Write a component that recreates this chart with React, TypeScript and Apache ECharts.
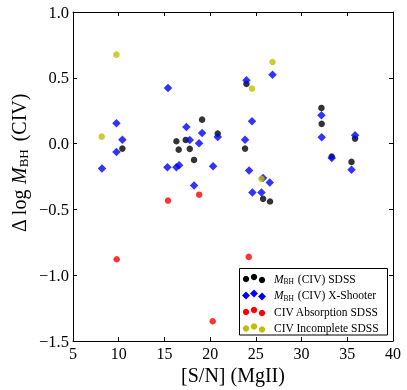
import React, { useEffect, useRef } from "react";
import * as echarts from "echarts";

// [S/N](MgII), Δlog M_BH(CIV)
const civSdss: [number, number][] = [
  [10.4, -0.038], [16.31, 0.018], [16.56, -0.046], [17.33, 0.028], [17.77, -0.04],
  [18.24, -0.124], [19.12, 0.182], [20.83, 0.076], [23.97, 0.454], [23.82, -0.038],
  [25.79, -0.42], [26.55, -0.44], [32.17, 0.271], [32.2, 0.15], [33.3, -0.098],
  [35.46, -0.139], [35.85, 0.038],
];
const civXShooter: [number, number][] = [
  [8.17, -0.19], [9.75, 0.154], [9.75, -0.063], [10.4, 0.03], [15.39, 0.423],
  [15.33, -0.18], [16.31, -0.18], [16.6, -0.165], [17.4, 0.127], [17.77, 0.028],
  [18.24, -0.319], [19.12, 0.081], [18.79, 0.002], [20.32, -0.172], [20.83, 0.051],
  [23.97, 0.481], [24.58, 0.17], [23.82, 0.03], [24.26, -0.205], [24.62, -0.372],
  [25.79, -0.261], [26.52, -0.296], [25.61, -0.372], [26.82, 0.524], [32.17, 0.215],
  [32.2, 0.048], [33.3, -0.11], [35.46, -0.198], [35.85, 0.063],
];
const civAbsorption: [number, number][] = [
  [9.78, -0.879], [15.39, -0.433], [18.8, -0.388], [20.28, -1.35], [24.22, -0.861],
];
const civIncomplete: [number, number][] = [
  [8.14, 0.053], [9.75, 0.676], [24.58, 0.418], [26.82, 0.62], [25.61, -0.268],
];

const xMin = 5, xMax = 40, xStep = 5;
const yMin = -1.5, yMax = 1.0, yStep = 0.5;

const legendLabels = [
  "{i|M}{s|BH} (CIV) SDSS",
  "{i|M}{s|BH} (CIV) X-Shooter",
  "CIV Absorption SDSS",
  "CIV Incomplete SDSS",
];

const FONT = "'Liberation Serif', 'DejaVu Serif', serif";
const BLACK = "#000000";
const BLUE = "#0000ff";
const RED = "#ff0000";
const OLIVE = "#bfbf00";

const fmt = (v: number) => v.toFixed(1).replace("-", "\u2212");

export default function App() {
  const ref = useRef<HTMLDivElement>(null);
  useEffect(() => {
    if (!ref.current) return;
    const chart = echarts.init(ref.current, undefined, { renderer: "svg" });

    const axisCommon = {
      type: "value" as const,
      axisLine: { show: true, onZero: false, lineStyle: { color: "#000", width: 1 } },
      axisTick: { show: true, inside: true, length: 4, lineStyle: { color: "#000", width: 1 } },
      splitLine: { show: false },
    };

    const colors = [BLACK, BLUE, RED, OLIVE];
    const symbols = ["circle", "diamond", "circle", "circle"];
    const rowY = [278.5, 295, 311.5, 328];
    const mx = [246, 254, 262];
    const my = [0.5, -1.5, 1.5];

    const legendGraphics: any[] = [
      {
        type: "rect",
        shape: { x: 239.5, y: 268.5, width: 148, height: 66.5 },
        style: { fill: "#fff", stroke: "#000", lineWidth: 1 },
        z: 100,
      },
    ];
    rowY.forEach((ry, i) => {
      mx.forEach((x, j) => {
        const y = ry + my[j];
        if (symbols[i] === "diamond") {
          legendGraphics.push({
            type: "polygon",
            shape: { points: [[x, y - 4], [x + 4, y], [x, y + 4], [x - 4, y]] },
            style: { fill: colors[i] },
            z: 101,
          });
        } else {
          legendGraphics.push({
            type: "circle",
            shape: { cx: x, cy: y, r: 3.2 },
            style: { fill: colors[i] },
            z: 101,
          });
        }
      });
      legendGraphics.push({
        type: "text",
        x: 274,
        y: ry,
        style: {
          text: legendLabels[i],
          fontFamily: FONT,
          fontSize: 11.5,
          fill: "#000",
          verticalAlign: "middle",
          align: "left",
          rich: {
            i: { fontStyle: "italic", fontSize: 11.5, fontFamily: FONT },
            s: { fontSize: 7.5, fontFamily: FONT, padding: [6, 1, 0, 0] },
          },
        },
        z: 101,
      });
    });

    const mk = (data: [number, number][], color: string, symbol: string, size: number, z: number) => ({
      type: "scatter" as const,
      data,
      symbol,
      symbolSize: size,
      itemStyle: { color },
      z,
      xAxisIndex: 0,
      yAxisIndex: 0,
    });

    chart.setOption({
      animation: false,
      grid: { left: 73, right: 14, top: 12, bottom: 49, containLabel: false },
      xAxis: [
        {
          ...axisCommon,
          position: "bottom",
          min: xMin, max: xMax, interval: xStep,
          axisLabel: { show: true, margin: 4, fontFamily: FONT, fontSize: 16, color: "#000", formatter: (v: number) => String(v) },
        },
        {
          ...axisCommon,
          position: "top",
          min: xMin, max: xMax, interval: xStep,
          axisLabel: { show: false },
        },
      ],
      yAxis: [
        {
          ...axisCommon,
          position: "left",
          min: yMin, max: yMax, interval: yStep,
          axisLabel: { show: true, margin: 4, fontFamily: FONT, fontSize: 16.5, color: "#000", formatter: fmt },
        },
        {
          ...axisCommon,
          position: "right",
          min: yMin, max: yMax, interval: yStep,
          axisLabel: { show: false },
        },
      ],
      series: [
        mk(civSdss, BLACK, "circle", 6.5, 2),
        mk(civXShooter, BLUE, "diamond", 8.5, 3),
        mk(civAbsorption, RED, "circle", 6.5, 4),
        mk(civIncomplete, OLIVE, "circle", 6.5, 5),
      ],
      graphic: [
        {
          type: "text",
          x: 19,
          y: 163,
          rotation: Math.PI / 2,
          style: {
            text: "\u0394 log {i|M}{s|BH} (CIV)",
            fontFamily: FONT,
            fontSize: 20,
            fill: "#000",
            align: "center",
            verticalAlign: "middle",
            rich: {
              i: { fontStyle: "italic", fontSize: 20, fontFamily: FONT },
              s: { fontSize: 13, fontFamily: FONT, padding: [9, 3, 0, 0] },
            },
          },
        },
        {
          type: "text",
          x: 233,
          y: 375,
          style: {
            text: "[S/N] (MgII)",
            fontFamily: FONT,
            fontSize: 20,
            fill: "#000",
            align: "center",
            verticalAlign: "middle",
          },
        },
        ...legendGraphics,
      ],
    });
    return () => chart.dispose();
  }, []);
  return <div ref={ref} style={{ position: "fixed", left: 0, top: 0, width: 407, height: 390 }} />;
}
